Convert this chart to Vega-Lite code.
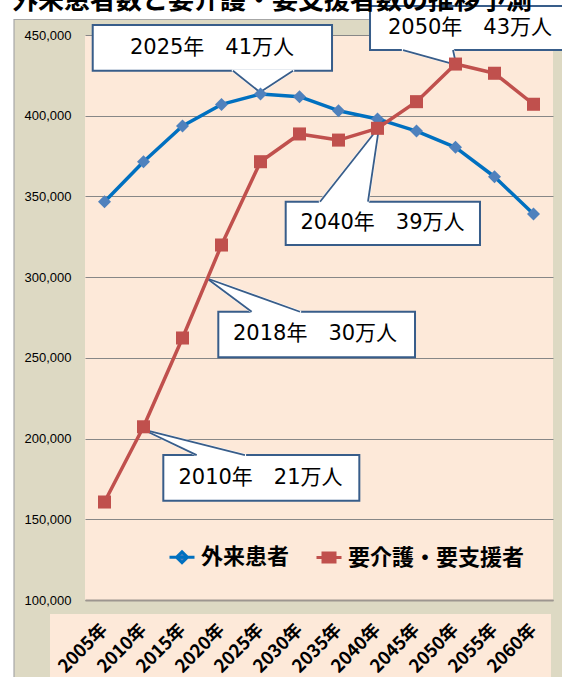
{
  "$schema": "https://vega.github.io/schema/vega-lite/v6.json",
  "autosize": "none",
  "width": 468,
  "height": 565,
  "padding": {"left": 85, "top": 35, "right": 9, "bottom": 77},
  "background": "#DDD9C3",
  "view": {"fill": "#FDE9D9", "stroke": null},
  "config": {
    "axisX": {
      "labelAngle": -45, "labelAlign": "right", "labelBaseline": "middle",
      "labelPadding": 27, "labelFont": "Noto Sans CJK JP", "labelFontSize": 18, "labelFontWeight": "bold",
      "labelColor": "#000000", "labelOverlap": false, "labelFlush": false,
      "domain": true, "domainColor": "#9D9690", "domainWidth": 2,
      "ticks": false, "grid": false
    },
    "axisY": {
      "labelFont": "Liberation Sans", "labelFontSize": 13, "labelColor": "#000000", "labelPadding": 14,
      "domain": false, "ticks": false,
      "grid": true, "gridColor": "#878787", "gridWidth": 1
    }
  },
  "datasets": {
    "series": [
      {"year": 2005, "series": "外来患者", "value": 346700},
      {"year": 2010, "series": "外来患者", "value": 371500},
      {"year": 2015, "series": "外来患者", "value": 393600},
      {"year": 2020, "series": "外来患者", "value": 407000},
      {"year": 2025, "series": "外来患者", "value": 413400},
      {"year": 2030, "series": "外来患者", "value": 411800},
      {"year": 2035, "series": "外来患者", "value": 403100},
      {"year": 2040, "series": "外来患者", "value": 398000},
      {"year": 2045, "series": "外来患者", "value": 390500},
      {"year": 2050, "series": "外来患者", "value": 380400},
      {"year": 2055, "series": "外来患者", "value": 362200},
      {"year": 2060, "series": "外来患者", "value": 339100},
      {"year": 2005, "series": "要介護・要支援者", "value": 160700},
      {"year": 2010, "series": "要介護・要支援者", "value": 207300},
      {"year": 2015, "series": "要介護・要支援者", "value": 262300},
      {"year": 2020, "series": "要介護・要支援者", "value": 319900},
      {"year": 2025, "series": "要介護・要支援者", "value": 371500},
      {"year": 2030, "series": "要介護・要支援者", "value": 388700},
      {"year": 2035, "series": "要介護・要支援者", "value": 384900},
      {"year": 2040, "series": "要介護・要支援者", "value": 392200},
      {"year": 2045, "series": "要介護・要支援者", "value": 408700},
      {"year": 2050, "series": "要介護・要支援者", "value": 432000},
      {"year": 2055, "series": "要介護・要支援者", "value": 426300},
      {"year": 2060, "series": "要介護・要支援者", "value": 407100}
    ],
    "callouts": [
      {"label": "2025年　41万人", "tx": 2018.78, "ty": 442000, "bx1": 2003.49, "bx2": 2034.17, "by1": 456200, "by2": 427880, "px1": 2021.47, "px2": 2029.17, "py": 427880, "ax": 2024.94, "ay": 414500},
      {"label": "2050年　43万人", "tx": 2051.86, "ty": 454340, "bx1": 2039.04, "bx2": 2068.5, "by1": 467970, "by2": 440700, "px1": 2043.27, "px2": 2049.68, "py": 440700, "ax": 2050.1, "ay": 431500},
      {"label": "2040年　39万人", "tx": 2040.64, "ty": 333520, "bx1": 2028.23, "bx2": 2053.14, "by1": 346720, "by2": 319880, "px1": 2032.63, "px2": 2038.78, "py": 346720, "ax": 2040.2, "ay": 393000},
      {"label": "2018年　30万人", "tx": 2031.99, "ty": 264740, "bx1": 2019.59, "bx2": 2044.81, "by1": 278560, "by2": 250310, "px1": 2023.87, "px2": 2030.06, "py": 278560, "ax": 2018.1, "ay": 299300},
      {"label": "2010年　21万人", "tx": 2025.0, "ty": 175830, "bx1": 2012.54, "bx2": 2037.67, "by1": 189770, "by2": 161460, "px1": 2016.82, "px2": 2023.01, "py": 189770, "ax": 2010.0, "ay": 205500}
    ],
    "pointers": [
      {"id": "c2025", "y": 427880, "xa": 2021.47, "xb": 2029.17},
      {"id": "c2025", "y": 414500, "xa": 2024.94, "xb": 2024.94},
      {"id": "c2050", "y": 440700, "xa": 2043.27, "xb": 2049.68},
      {"id": "c2050", "y": 431500, "xa": 2050.1, "xb": 2050.1},
      {"id": "c2040", "y": 346720, "xa": 2032.63, "xb": 2038.78},
      {"id": "c2040", "y": 393000, "xa": 2040.2, "xb": 2040.2},
      {"id": "c2018", "y": 278560, "xa": 2023.87, "xb": 2030.06},
      {"id": "c2018", "y": 299300, "xa": 2018.1, "xb": 2018.1},
      {"id": "c2010", "y": 189770, "xa": 2016.82, "xb": 2023.01},
      {"id": "c2010", "y": 205500, "xa": 2010.0, "xb": 2010.0}
    ],
    "one": [{"k": 1}]
  },
  "layer": [
    {
      "data": {"name": "one"},
      "mark": {"type": "rect", "fill": "#FFFFFF", "strokeWidth": 0},
      "encoding": {
        "x": {"datum": 1975, "type": "quantitative", "title": null, "scale": {"domain": [2002.5, 2062.5], "nice": false, "zero": false},
          "axis": {"title": null, "values": [2005, 2010, 2015, 2020, 2025, 2030, 2035, 2040, 2045, 2050, 2055, 2060], "labelExpr": "datum.value + '年'", "zindex": 1}},
        "x2": {"datum": 1993.4},
        "y": {"datum": 520000, "type": "quantitative", "title": null, "scale": {"domain": [100000, 450000], "nice": false, "zero": false},
          "axis": {"title": null, "values": [100000, 150000, 200000, 250000, 300000, 350000, 400000, 450000], "labelExpr": "format(datum.value, ',')", "zindex": 0}},
        "y2": {"datum": 0}
      }
    },
    {
      "data": {"name": "one"},
      "mark": {"type": "rect", "fill": "#FFFFFF", "strokeWidth": 0},
      "encoding": {
        "x": {"datum": 1975, "type": "quantitative", "title": null},
        "x2": {"datum": 2080},
        "y": {"datum": 520000, "type": "quantitative", "title": null},
        "y2": {"datum": 459600}
      }
    },
    {
      "data": {"name": "one"},
      "mark": {"type": "rect", "fillOpacity": 0, "stroke": "#A6A6A6", "strokeWidth": 1.2},
      "encoding": {
        "x": {"datum": 1993.4, "type": "quantitative", "title": null},
        "x2": {"datum": 2080},
        "y": {"datum": 459600, "type": "quantitative", "title": null},
        "y2": {"datum": 0}
      }
    },
    {
      "data": {"name": "one"},
      "mark": {"type": "rect", "fill": "#FDE9D9", "strokeWidth": 0},
      "encoding": {
        "x": {"datum": 1998.01, "type": "quantitative", "title": null},
        "x2": {"datum": 2062.24},
        "y": {"datum": 91260, "type": "quantitative", "title": null},
        "y2": {"datum": 0}
      }
    },
    {
      "data": {"name": "callouts"},
      "mark": {"type": "rect", "fill": "#FFFFFF", "stroke": "#385D8A", "strokeWidth": 2},
      "encoding": {
        "x": {"field": "bx1", "type": "quantitative", "title": null},
        "x2": {"field": "bx2"},
        "y": {"field": "by1", "type": "quantitative", "title": null},
        "y2": {"field": "by2"}
      }
    },
    {
      "data": {"name": "pointers"},
      "mark": {"type": "area", "orient": "horizontal", "fill": "#FFFFFF", "stroke": "#FFFFFF", "strokeWidth": 2.6, "strokeJoin": "round"},
      "encoding": {
        "y": {"field": "y", "type": "quantitative", "title": null},
        "x": {"field": "xa", "type": "quantitative", "title": null},
        "x2": {"field": "xb"},
        "detail": {"field": "id"}
      }
    },
    {
      "data": {"name": "callouts"},
      "mark": {"type": "rule", "stroke": "#385D8A", "strokeWidth": 1.8},
      "encoding": {
        "x": {"field": "px1", "type": "quantitative", "title": null},
        "x2": {"field": "ax"},
        "y": {"field": "py", "type": "quantitative", "title": null},
        "y2": {"field": "ay"}
      }
    },
    {
      "data": {"name": "callouts"},
      "mark": {"type": "rule", "stroke": "#385D8A", "strokeWidth": 1.8},
      "encoding": {
        "x": {"field": "px2", "type": "quantitative", "title": null},
        "x2": {"field": "ax"},
        "y": {"field": "py", "type": "quantitative", "title": null},
        "y2": {"field": "ay"}
      }
    },
    {
      "data": {"name": "callouts"},
      "mark": {"type": "text", "align": "center", "baseline": "middle", "font": "DejaVu Sans, Noto Sans CJK JP", "fontSize": 21, "color": "#000000"},
      "encoding": {
        "x": {"field": "tx", "type": "quantitative", "title": null},
        "y": {"field": "ty", "type": "quantitative", "title": null},
        "text": {"field": "label"}
      }
    },
    {
      "data": {"name": "series"},
      "mark": {"type": "line", "strokeWidth": 3.5, "strokeJoin": "round"},
      "encoding": {
        "x": {"field": "year", "type": "quantitative", "title": null},
        "y": {"field": "value", "type": "quantitative", "title": null},
        "color": {
          "field": "series", "type": "nominal",
          "scale": {"domain": ["外来患者", "要介護・要支援者"], "range": ["#0070C0", "#C0504D"]},
          "legend": {
            "orient": "none", "legendX": 86, "legendY": 511, "direction": "horizontal",
            "title": null, "labelFont": "Noto Sans CJK JP", "labelFontSize": 22, "labelFontWeight": "bold",
            "labelColor": "#000000", "labelLimit": 400, "symbolSize": 100, "labelOffset": 8, "columnPadding": 20,
            "encode": {
              "symbols": {
                "update": {
                  "shape": {"signal": "datum.value === '外来患者' ? 'M-2.5,0L2.5,0M0,-1.1L1.1,0L0,1.1L-1.1,0Z' : 'M-2.5,0L2.5,0M-1.2,-0.9L1.2,-0.9L1.2,0.9L-1.2,0.9Z'"},
                  "fill": {"signal": "datum.value === '外来患者' ? '#4F81BD' : '#C0504D'"},
                  "stroke": {"signal": "datum.value === '外来患者' ? '#0070C0' : '#C0504D'"},
                  "strokeWidth": {"value": 3},
                  "opacity": {"value": 1}
                }
              }
            }
          }
        }
      }
    },
    {
      "data": {"name": "series"},
      "mark": {"type": "point", "filled": true, "size": 170, "opacity": 1},
      "encoding": {
        "x": {"field": "year", "type": "quantitative", "title": null},
        "y": {"field": "value", "type": "quantitative", "title": null},
        "color": {"condition": {"test": "datum.series === '外来患者'", "value": "#4F81BD"}, "value": "#C0504D"},
        "shape": {"condition": {"test": "datum.series === '外来患者'", "value": "diamond"}, "value": "square"}
      }
    },
    {
      "data": {"name": "one"},
      "mark": {"type": "text", "text": "外来患者数と要介護・要支援者数の推移予測", "align": "left", "baseline": "alphabetic", "font": "Noto Sans CJK JP", "fontSize": 26, "fontWeight": "bold", "color": "#000000"},
      "encoding": {
        "x": {"datum": 1993.14, "type": "quantitative", "title": null},
        "y": {"datum": 466110, "type": "quantitative", "title": null}
      }
    }
  ]
}
